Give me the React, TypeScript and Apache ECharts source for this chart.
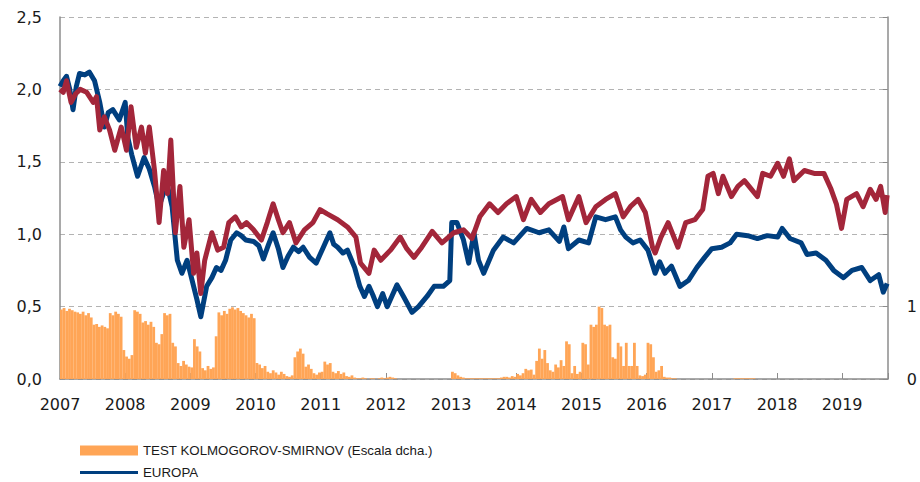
import React, { useEffect, useRef } from 'react';
import * as echarts from 'echarts';

// ---- Axis ticks -----------------------------------------------------------
const yearTicks = [2007, 2008, 2009, 2010, 2011, 2012, 2013, 2014, 2015, 2016, 2017, 2018, 2019];
const X_MIN = 2007;
const X_MAX = 2019.7;

// ---- Line series: [year fraction, value] ----------------------------------
const europa: [number, number][] = [
  [2007.00, 2.02], [2007.05, 2.06], [2007.10, 2.09], [2007.15, 2.00], [2007.20, 1.86], [2007.25, 2.02],
  [2007.30, 2.11], [2007.38, 2.10], [2007.45, 2.12], [2007.53, 2.06], [2007.61, 1.91], [2007.68, 1.74],
  [2007.74, 1.84], [2007.81, 1.86], [2007.91, 1.79], [2008.00, 1.91], [2008.04, 1.67], [2008.10, 1.55],
  [2008.19, 1.40], [2008.29, 1.53], [2008.37, 1.45], [2008.45, 1.33], [2008.52, 1.19], [2008.60, 1.30],
  [2008.65, 1.33], [2008.72, 1.19], [2008.80, 0.82], [2008.87, 0.73], [2008.95, 0.82], [2009.05, 0.64],
  [2009.10, 0.55], [2009.16, 0.43], [2009.25, 0.64], [2009.33, 0.70], [2009.40, 0.77], [2009.47, 0.75],
  [2009.54, 0.82], [2009.62, 0.96], [2009.71, 1.01], [2009.78, 0.99], [2009.85, 0.96], [2009.97, 0.95],
  [2010.05, 0.92], [2010.12, 0.83], [2010.20, 0.93], [2010.27, 1.01], [2010.35, 0.90], [2010.42, 0.77],
  [2010.50, 0.85], [2010.58, 0.91], [2010.66, 0.88], [2010.73, 0.91], [2010.83, 0.84], [2010.93, 0.80],
  [2011.03, 0.90], [2011.14, 1.01], [2011.20, 0.93], [2011.26, 0.91], [2011.34, 0.87], [2011.41, 0.89],
  [2011.52, 0.77], [2011.60, 0.64], [2011.67, 0.57], [2011.74, 0.64], [2011.80, 0.58], [2011.87, 0.50],
  [2011.95, 0.59], [2012.02, 0.50], [2012.10, 0.58], [2012.17, 0.65], [2012.27, 0.57], [2012.33, 0.52],
  [2012.40, 0.46], [2012.50, 0.50], [2012.63, 0.57], [2012.74, 0.64], [2012.88, 0.64], [2012.98, 0.68],
  [2013.01, 1.08], [2013.09, 1.08], [2013.19, 0.96], [2013.27, 0.80], [2013.35, 1.01], [2013.42, 0.82],
  [2013.50, 0.73], [2013.65, 0.89], [2013.80, 0.98], [2013.96, 0.94], [2014.16, 1.04], [2014.35, 1.01],
  [2014.50, 1.03], [2014.66, 0.95], [2014.73, 1.05], [2014.80, 0.90], [2014.96, 0.96], [2015.11, 0.94],
  [2015.22, 1.12], [2015.37, 1.10], [2015.52, 1.12], [2015.60, 1.03], [2015.68, 0.98], [2015.79, 0.94],
  [2015.90, 0.96], [2016.02, 0.89], [2016.13, 0.73], [2016.20, 0.81], [2016.28, 0.73], [2016.38, 0.78],
  [2016.51, 0.64], [2016.64, 0.68], [2016.77, 0.77], [2016.89, 0.84], [2017.00, 0.90], [2017.15, 0.91],
  [2017.28, 0.94], [2017.38, 1.00], [2017.55, 0.99], [2017.70, 0.97], [2017.85, 0.99], [2018.01, 0.98],
  [2018.08, 1.04], [2018.20, 0.97], [2018.37, 0.94], [2018.46, 0.86], [2018.60, 0.87], [2018.75, 0.82],
  [2018.87, 0.75], [2019.02, 0.70], [2019.15, 0.75], [2019.30, 0.77], [2019.43, 0.68], [2019.56, 0.72],
  [2019.63, 0.60], [2019.69, 0.66],
];

const eeuu: [number, number][] = [
  [2007.00, 2.00], [2007.05, 1.98], [2007.10, 2.06], [2007.17, 1.91], [2007.24, 1.97], [2007.31, 2.00],
  [2007.41, 1.98], [2007.51, 1.91], [2007.56, 1.95], [2007.61, 1.72], [2007.68, 1.81], [2007.76, 1.72],
  [2007.84, 1.58], [2007.94, 1.74], [2008.02, 1.58], [2008.09, 1.88], [2008.17, 1.60], [2008.25, 1.74],
  [2008.31, 1.56], [2008.37, 1.74], [2008.45, 1.44], [2008.52, 1.08], [2008.59, 1.44], [2008.65, 1.28],
  [2008.70, 1.65], [2008.77, 1.01], [2008.84, 1.33], [2008.90, 0.91], [2008.98, 1.10], [2009.05, 0.73],
  [2009.10, 0.87], [2009.16, 0.59], [2009.22, 0.82], [2009.33, 1.01], [2009.42, 0.89], [2009.51, 0.91],
  [2009.59, 1.08], [2009.69, 1.12], [2009.78, 1.05], [2009.86, 1.08], [2009.97, 1.03], [2010.09, 0.96],
  [2010.18, 1.08], [2010.27, 1.21], [2010.35, 1.10], [2010.42, 1.01], [2010.52, 1.08], [2010.62, 0.94],
  [2010.75, 1.03], [2010.88, 1.08], [2010.99, 1.17], [2011.10, 1.14], [2011.26, 1.10], [2011.41, 1.05],
  [2011.54, 0.98], [2011.61, 0.80], [2011.74, 0.73], [2011.82, 0.89], [2011.92, 0.82], [2012.07, 0.89],
  [2012.22, 0.98], [2012.32, 0.90], [2012.43, 0.84], [2012.55, 0.91], [2012.71, 1.02], [2012.86, 0.94],
  [2013.04, 1.01], [2013.19, 1.03], [2013.32, 0.97], [2013.44, 1.12], [2013.59, 1.21], [2013.72, 1.15],
  [2013.85, 1.21], [2014.00, 1.26], [2014.11, 1.10], [2014.23, 1.24], [2014.37, 1.15], [2014.50, 1.21],
  [2014.71, 1.26], [2014.80, 1.10], [2014.96, 1.26], [2015.07, 1.08], [2015.22, 1.19], [2015.37, 1.24],
  [2015.52, 1.28], [2015.64, 1.12], [2015.75, 1.19], [2015.87, 1.24], [2015.98, 1.15], [2016.09, 0.91],
  [2016.13, 0.87], [2016.22, 0.98], [2016.33, 1.08], [2016.48, 0.91], [2016.60, 1.08], [2016.74, 1.10],
  [2016.86, 1.17], [2016.94, 1.40], [2017.02, 1.42], [2017.10, 1.28], [2017.17, 1.40], [2017.30, 1.26],
  [2017.40, 1.33], [2017.50, 1.37], [2017.70, 1.26], [2017.78, 1.42], [2017.90, 1.40], [2018.01, 1.49],
  [2018.10, 1.40], [2018.19, 1.52], [2018.26, 1.37], [2018.42, 1.44], [2018.57, 1.42], [2018.72, 1.42],
  [2018.83, 1.31], [2018.91, 1.21], [2018.99, 1.04], [2019.07, 1.24], [2019.22, 1.28], [2019.32, 1.19],
  [2019.43, 1.31], [2019.52, 1.24], [2019.59, 1.33], [2019.66, 1.15], [2019.69, 1.27],
];

// ---- Kolmogorov-Smirnov test (right axis), half-monthly values per year ----
const KS_STEP = 1 / 24;
const ks2007 = [0.96, 0.98, 0.94, 0.97, 0.95, 0.93, 0.92, 0.90, 0.93, 0.88, 0.91, 0.85, 0.75, 0.76, 0.72, 0.74, 0.72, 0.70, 0.91, 0.88, 0.93, 0.90, 0.86, 0.40];
const ks2008 = [0.31, 0.28, 0.33, 0.95, 0.93, 0.90, 0.78, 0.80, 0.75, 0.79, 0.72, 0.50, 0.48, 0.62, 0.91, 0.88, 0.90, 0.50, 0.45, 0.22, 0.18, 0.25, 0.20, 0.17];
const ks2009 = [0.16, 0.55, 0.45, 0.38, 0.15, 0.12, 0.18, 0.14, 0.16, 0.59, 0.92, 0.88, 0.94, 0.90, 0.97, 0.99, 0.96, 0.98, 0.94, 0.91, 0.88, 0.85, 0.90, 0.84];
const ks2010 = [0.22, 0.20, 0.15, 0.18, 0.10, 0.08, 0.12, 0.09, 0.06, 0.10, 0.07, 0.04, 0.03, 0.05, 0.30, 0.38, 0.42, 0.35, 0.17, 0.20, 0.14, 0.08, 0.06, 0.09];
const ks2011 = [0.10, 0.24, 0.20, 0.22, 0.10, 0.08, 0.11, 0.07, 0.09, 0.04, 0.03, 0.05, 0.02, 0.01, 0.01, 0.02, 0.01, 0.00, 0.01, 0.01, 0.00, 0.01, 0.02, 0.01];
const ks2012 = [0.02, 0.03, 0.02, 0.01, 0, 0, 0, 0, 0, 0, 0, 0, 0, 0, 0, 0, 0, 0, 0, 0, 0, 0, 0, 0];
const ks2013 = [0.10, 0.08, 0.05, 0.03, 0.02, 0.01, 0.01, 0.01, 0.01, 0.01, 0.01, 0.01, 0.01, 0.01, 0.01, 0.01, 0.01, 0.01, 0.02, 0.03, 0.03, 0.02, 0.04, 0.03];
const ks2014 = [0.07, 0.05, 0.08, 0.14, 0.12, 0.13, 0.06, 0.25, 0.42, 0.28, 0.40, 0.22, 0.12, 0.10, 0.20, 0.16, 0.26, 0.18, 0.52, 0.48, 0.08, 0.18, 0.07, 0.10];
const ks2015 = [0.50, 0.48, 0.20, 0.75, 0.72, 0.75, 1.00, 0.98, 0.75, 0.73, 0.75, 0.30, 0.28, 0.50, 0.45, 0.18, 0.50, 0.18, 0.18, 0.50, 0.18, 0.05, 0.04, 0.06];
const ks2016 = [0.50, 0.48, 0.30, 0.10, 0.12, 0.18, 0.03, 0.02, 0.02, 0.01, 0.01, 0, 0, 0, 0, 0, 0, 0, 0, 0, 0, 0, 0, 0];
const ks2017 = [0, 0, 0, 0, 0, 0, 0, 0, 0.01, 0.01, 0.01, 0.01, 0.01, 0.01, 0.01, 0.01, 0, 0, 0, 0, 0, 0, 0, 0];
const ksValues = [...ks2007, ...ks2008, ...ks2009, ...ks2010, ...ks2011, ...ks2012, ...ks2013, ...ks2014, ...ks2015, ...ks2016, ...ks2017];

// ---- Labels & colours --------------------------------------------------------
const NAME_KS = 'TEST KOLMOGOROV-SMIRNOV (Escala dcha.)';
const NAME_EU = 'EUROPA';
const NAME_US = 'EE.UU.';
const C_ORANGE = '#FFA556';
const C_BLUE = '#003F7F';
const C_RED = '#A3263A';
const AXIS_FONT = "'DejaVu Sans', 'Liberation Sans', sans-serif";
const LEGEND_FONT = "'Liberation Sans', Arial, sans-serif";
const W = 920;
const H = 482;

export default function App() {
  const ref = useRef<HTMLDivElement>(null);

  useEffect(() => {
    const chart = echarts.init(ref.current!, null, { renderer: 'svg', width: W, height: H });
    const ksData = ksValues.map((v, i) => [X_MIN + (i + 0.5) * KS_STEP, v]);
    chart.setOption({
      animation: false,
      backgroundColor: '#ffffff',
      grid: { left: 60, right: 26, top: 17, bottom: 103, containLabel: false },
      legend: {
        orient: 'vertical',
        left: 75,
        top: 439,
        height: 120,
        itemWidth: 58,
        itemHeight: 10,
        itemGap: 9,
        textStyle: { fontFamily: LEGEND_FONT, fontSize: 13.3, color: '#1a1a1a' },
        data: [
          { name: NAME_KS, icon: 'rect' },
          { name: NAME_EU, icon: 'path://M0,0 M58,10 M0,3.5 L58,3.5 L58,6.5 L0,6.5 Z' },
        ],
      },
      xAxis: {
        type: 'value',
        min: X_MIN,
        max: X_MAX,
        interval: 1,
        axisLine: { show: true, lineStyle: { color: '#8c8c8c', width: 1.5 } },
        axisTick: { show: true, inside: true, length: 6, lineStyle: { color: '#8c8c8c' } },
        splitLine: { show: false },
        axisLabel: {
          margin: 17,
          fontFamily: AXIS_FONT,
          fontSize: 16,
          color: '#1a1a1a',
          formatter: (v: number) => (yearTicks.includes(v) ? String(v) : ''),
        },
      },
      yAxis: [
        {
          type: 'value',
          min: 0,
          max: 2.5,
          interval: 0.5,
          axisLine: { show: true, lineStyle: { color: '#8c8c8c', width: 1.5 } },
          axisTick: { show: false },
          splitLine: { show: true, lineStyle: { color: '#b3b3b3', type: [5, 4], width: 1 } },
          axisLabel: {
            margin: 18,
            fontFamily: AXIS_FONT,
            fontSize: 16,
            color: '#1a1a1a',
            formatter: (v: number) => v.toFixed(1).replace('.', ','),
          },
        },
        {
          type: 'value',
          position: 'right',
          min: 0,
          max: 5,
          interval: 1,
          axisLine: { show: true, lineStyle: { color: '#8c8c8c', width: 1.5 } },
          axisTick: { show: true, inside: true, length: 5, lineStyle: { color: '#8c8c8c' } },
          splitLine: { show: false },
          axisLabel: {
            margin: 19,
            fontFamily: AXIS_FONT,
            fontSize: 16,
            color: '#1a1a1a',
            formatter: (v: number) => (v <= 1 ? String(v) : ''),
          },
        },
      ],
      series: [
        {
          name: NAME_KS,
          type: 'bar',
          yAxisIndex: 1,
          barWidth: 2.8,
          itemStyle: { color: C_ORANGE },
          data: ksData,
        },
        {
          name: NAME_EU,
          type: 'line',
          yAxisIndex: 0,
          showSymbol: false,
          symbol: 'none',
          lineStyle: { color: C_BLUE, width: 5, join: 'round' },
          itemStyle: { color: C_BLUE },
          data: europa,
        },
        {
          name: NAME_US,
          type: 'line',
          yAxisIndex: 0,
          showSymbol: false,
          symbol: 'none',
          lineStyle: { color: C_RED, width: 5, join: 'round' },
          itemStyle: { color: C_RED },
          data: eeuu,
        },
      ],
    });
    return () => chart.dispose();
  }, []);

  return (
    <div
      ref={ref}
      style={{ position: 'fixed', left: 0, top: 0, width: W, height: H, background: '#fff' }}
    />
  );
}
